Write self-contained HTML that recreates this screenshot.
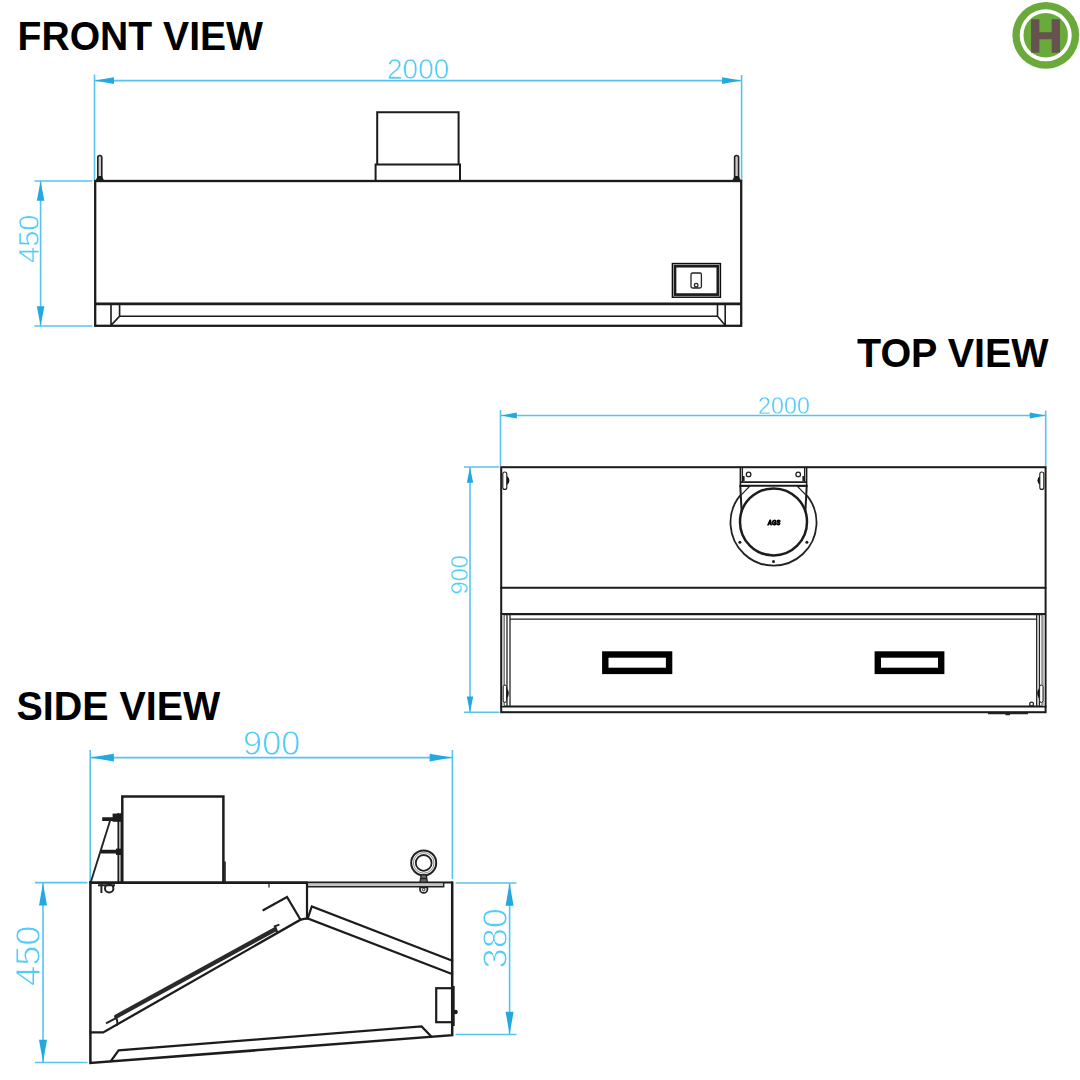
<!DOCTYPE html>
<html lang="en">
<head>
<meta charset="utf-8">
<title>Hood drawing</title>
<style>
html,body{margin:0;padding:0;background:#fff;}
body{width:1080px;height:1080px;overflow:hidden;position:relative;font-family:"Liberation Sans",sans-serif;}
svg{position:absolute;left:0;top:0;display:block;}
.t{font-family:"Liberation Sans",sans-serif;font-weight:700;font-size:41.2px;fill:#000;}
.d{font-family:"Liberation Sans",sans-serif;font-weight:400;fill:#52cbf8;stroke:#fff;stroke-width:0.6px;}
.d.s{stroke-width:0.35px;}
.d.l{stroke-width:0.9px;}
.k{stroke:#1c1c1c;fill:none;stroke-width:2;stroke-linecap:square;stroke-linejoin:miter;}
.k2{stroke:#1c1c1c;fill:none;stroke-width:2.6;stroke-linecap:butt;}
.k1{stroke:#222;fill:none;stroke-width:1.3;}
.b{stroke:#58c4ee;fill:none;stroke-width:1.6;}
.a{fill:#22a9e1;stroke:none;}
</style>
</head>
<body>
<svg width="1080" height="1080" viewBox="0 0 1080 1080">
<defs><filter id="soft" x="-2%" y="-2%" width="104%" height="104%"><feGaussianBlur stdDeviation="0.55"/></filter></defs>
<rect x="0" y="0" width="1080" height="1080" fill="#ffffff"/>

<!-- ===== titles ===== -->
<text class="t" x="17.6" y="49.8" textLength="245.4" lengthAdjust="spacingAndGlyphs">FRONT VIEW</text>
<text class="t" x="857" y="366.9" textLength="191.6" lengthAdjust="spacingAndGlyphs">TOP VIEW</text>
<text class="t" x="16.4" y="719.9" textLength="204" lengthAdjust="spacingAndGlyphs">SIDE VIEW</text>

<!-- ===== logo ===== -->
<g id="logo" filter="url(#soft)">
<circle cx="1045.8" cy="35.3" r="33.4" fill="#6aaa3a"/>
<circle cx="1045.7" cy="35.3" r="24.1" fill="none" stroke="#ffffff" stroke-width="3.8"/>
<text x="1045.6" y="51.5" text-anchor="middle" font-family="Liberation Sans, sans-serif" font-weight="700" font-size="46.5" fill="#66524f" stroke="#66524f" stroke-width="1.6" stroke-linejoin="miter">H</text>
</g>

<!-- ===== FRONT VIEW ===== -->
<g id="front" filter="url(#soft)">
<!-- dims -->
<path class="b" d="M94.5 74.5V180.5 M741.6 75V180.5 M95 80.6H741 M34.5 181H92.5 M34.5 326H92.5 M40.6 181.5V325.5"/>
<path class="a" d="M95 80.6l19 -3.3v6.6z M741 80.6l-19 -3.3v6.6z M40.6 181.3l-3.8 19.5h7.6z M40.6 325.7l-3.8 -19.5h7.6z"/>
<text class="d" x="387" y="79.4" font-size="29.5" textLength="62.5" lengthAdjust="spacingAndGlyphs">2000</text>
<text class="d" transform="translate(38.8 263) rotate(-90)" font-size="29" textLength="48.5" lengthAdjust="spacingAndGlyphs">450</text>
<!-- body -->
<rect class="k" x="95.2" y="181" width="646" height="144.8" style="stroke-width:2.3"/>
<path class="k2" d="M95 303.8H741.4" style="stroke-width:2.8"/>
<path class="k" d="M111 304V325.6 M119.6 304V316.2 M119.6 316.2H717.5 M119.6 316.2L111 325.4 M725.2 304V325.6 M717.5 304V316.2 M717.5 316.2L725.2 325.4" style="stroke-width:1.6"/>
<!-- duct -->
<path class="k" d="M377.2 164.5V112.2H458.6V164.5 M375.6 180.5V164.6H460V180.5"/>
<!-- hooks -->
<path d="M97.8 178V157.5a2 2 0 0 1 4 0V178z M734.6 178V157.5a2 2 0 0 1 4 0V178z" fill="#c8c8c8" stroke="#222" stroke-width="1.6"/>
<path d="M95.5 180.5l2.3 -4.5h4l2.3 4.5z M732.3 180.5l2.3 -4.5h4l2.3 4.5z" fill="#1c1c1c"/>
<!-- switch -->
<rect class="k1" x="672.4" y="263.6" width="48" height="33.6" style="stroke-width:1.5;stroke:#111"/>
<rect class="k2" x="675" y="266.2" width="42.8" height="28.4" style="stroke-width:2.7"/>
<rect class="k1" x="691" y="273" width="10.4" height="15" rx="1.5"/>
<circle class="k1" cx="696.2" cy="285.2" r="1.8"/>
</g>

<!-- ===== TOP VIEW ===== -->
<g id="top" filter="url(#soft)">
<path class="b" d="M500.5 410V466 M1045.7 410.5V466 M501 415.5H1045.5 M464 467H499.5 M464 712.3H499.5 M470 467.5V712"/>
<path class="a" d="M501 415.5l15.8 -3v6z M1045.5 415.5l-15.8 -3v6z M470 467.2l-3.2 15.6h6.4z M470 712.2l-3.2 -15.6h6.4z"/>
<text class="d s" x="758" y="414.4" font-size="24" textLength="52" lengthAdjust="spacingAndGlyphs">2000</text>
<text class="d s" transform="translate(468.2 594.5) rotate(-90)" font-size="24" textLength="39.5" lengthAdjust="spacingAndGlyphs">900</text>
<rect class="k" x="501.2" y="467.2" width="544.4" height="245"/>
<path class="k" d="M501.2 587.8H1045.4 M501.2 706.5H1045.4"/>
<path class="k2" d="M501 614.2H1045.6" style="stroke-width:2.2"/>
<path class="k1" d="M510 619.2H1036.7 M503.9 614V706.5 M507 614V706.5 M510 614V706.5 M1036.7 614V706.5 M1039.4 614V706.5 M1042.3 614V706.5"/>
<!-- handles -->
<rect x="605.3" y="654.5" width="63.8" height="16.4" fill="#fff" stroke="#000" stroke-width="6.4"/>
<rect x="877.8" y="654.5" width="63.4" height="16.4" fill="#fff" stroke="#000" stroke-width="6.4"/>
<!-- duct bracket -->
<path class="k" d="M740.4 467.5V486 M806.6 467.5V486 M740.4 482.1H806.6" style="stroke-width:1.6"/>
<path class="k" d="M740.4 485.7H806.6 M740.3 486L741.6 511 M806.7 486L805.4 511" style="stroke-width:2"/>
<path class="k1" d="M742.4 468V482 M804.6 468V482 M741 486.4h8.5l-8.7 9 M806 486.4h-8.5l8.7 9"/>
<circle class="k1" cx="748.6" cy="474.4" r="2.3"/>
<circle class="k1" cx="798.2" cy="474.4" r="2.3"/>
<path class="k2" d="M743.6 476V481 M803.4 476V481" style="stroke-width:2"/>
<path class="k1" d="M740.2 495.4A43 43 0 1 0 806.8 495.4" style="stroke-width:1.8"/>
<circle class="k2" cx="773.5" cy="521.9" r="33.5" style="stroke-width:2.5"/>
<circle cx="739.9" cy="542.2" r="1.5" fill="#1c1c1c"/>
<circle cx="806.9" cy="542.2" r="1.5" fill="#1c1c1c"/>
<circle cx="773.5" cy="561.6" r="1.5" fill="#1c1c1c"/>
<text x="774" y="525.2" text-anchor="middle" font-family="Liberation Sans, sans-serif" font-weight="700" font-style="italic" font-size="6.6" fill="#000" stroke="#000" stroke-width="1" stroke-linejoin="round" textLength="12.4" lengthAdjust="spacingAndGlyphs">AGS</text>
<!-- hooks -->
<path d="M506 475.6q5.6 4.8 0 9.8z M1040.8 475.6q-5.6 4.8 0 9.8z" fill="#111" stroke="#111" stroke-width="1.2"/>
<rect x="502.8" y="472" width="4" height="17.4" rx="2" fill="#fff" stroke="#1c1c1c" stroke-width="1.1"/>
<rect x="1039.8" y="472" width="4" height="17.4" rx="2" fill="#fff" stroke="#1c1c1c" stroke-width="1.1"/>
<!-- latches -->
<path d="M502 615H503.9V706H502z M1042.3 615H1044.6V706H1042.3z" fill="#bdbdbd"/>
<path d="M506.4 688q4 5 0 11z M1039.6 688q-4 5 0 11z" fill="#111" stroke="#111" stroke-width="0.8"/>
<rect x="503.2" y="685" width="3.4" height="17.4" rx="1.7" fill="#fff" stroke="#1c1c1c" stroke-width="1"/>
<rect x="1039.6" y="685" width="3.4" height="17.4" rx="1.7" fill="#fff" stroke="#1c1c1c" stroke-width="1"/>
<circle class="k1" cx="1031.6" cy="704" r="1.9"/>
<path class="k1" d="M988 713.6H1028 M1005.5 714.6h4.5" style="stroke-width:1.4"/>
</g>

<!-- ===== SIDE VIEW ===== -->
<g id="side" filter="url(#soft)">
<path class="b" d="M90.2 750V882 M452.4 750V879 M90.5 757.6H452 M35 882.6H87.5 M35 1062.5H87.5 M43 883V1062 M455.5 883H516.5 M455.5 1034.5H516.5 M509.6 883.5V1034"/>
<path class="a" d="M90.5 757.6l23.4 -3.8v7.6z M452 757.6l-22.4 -3.8v7.6z M43 883l-4 22.4h8z M43 1062.2l-4 -22.4h8z M509.6 883.3l-4 22.4h8z M509.6 1034.2l-4 -22.4h8z"/>
<text class="d l" x="243" y="755.2" font-size="35.5" textLength="57.5" lengthAdjust="spacingAndGlyphs">900</text>
<text class="d l" transform="translate(40 986) rotate(-90)" font-size="35" textLength="60.5" lengthAdjust="spacingAndGlyphs">450</text>
<text class="d l" transform="translate(506.8 968.4) rotate(-90)" font-size="35.6" textLength="60.4" lengthAdjust="spacingAndGlyphs">380</text>
<!-- outline -->
<path class="k" d="M90.4 882.6V1063L452.2 1035.2V882.8" style="stroke-width:2.5"/>
<path class="k2" d="M89.4 882.6H307.4" style="stroke-width:2.6"/>
<path class="k" d="M307 882.5H452" style="stroke-width:1.9"/>
<path class="k1" d="M307 886.7H443.6V883" style="stroke-width:1.6"/>
<path d="M307 883.6H443V886H307z" fill="#c4c4c4"/>
<path class="k" d="M307 883V918.4" style="stroke-width:2.2"/>
<!-- duct -->
<path class="k" d="M122.3 882V796.4H223.4V882" style="stroke-width:2.5"/>
<path class="k1" d="M225 861.5V882" style="stroke-width:1.6"/>
<!-- ladder bracket -->
<path class="k2" d="M102.2 819.2H120 M101 851.6H120" style="stroke-width:3.8"/>
<rect x="112.6" y="813.6" width="9" height="8.2" fill="#1c1c1c"/>
<rect x="116" y="848.6" width="5" height="6.4" fill="#1c1c1c"/>
<path class="k" d="M118.4 814V882 M121.4 814V882" style="stroke-width:1.9"/>
<path class="k1" d="M110.6 819L91 881.5" style="stroke-width:1.9"/>
<path class="k1" d="M101.4 884v9 M105 888.4a4 3.8 0 1 0 8.4 0a4 3.8 0 1 0 -8.4 0 M98 885.2h17" style="stroke-width:2"/>
<path class="k1" d="M269 883V887.6"/>
<!-- filter -->
<path class="k" d="M90.6 1032.4H103.2L300.6 919.7L307 918.3" style="stroke-width:2.3"/>
<path class="k2" d="M115.2 1017.2L275.8 929" style="stroke-width:4.3;stroke:#2b2b2b"/>
<path class="k1" d="M106 1023.3L115 1018.6 M114.6 1016q4 4.6 2.4 9.6 M273.8 926.6L279.4 924.6 M275.4 927L277.6 933.4" style="stroke-width:2"/>
<path class="k" d="M263.6 910L287 897L300.4 919.6" style="stroke-width:2.2"/>
<!-- right baffle -->
<path class="k" d="M307.4 918.4L452 974 M308 917.6L311.8 906.4L452 960.6" style="stroke-width:2.2"/>
<!-- bottom tray -->
<path class="k" d="M111 1061L118.6 1050.3L421.6 1026.4L431.2 1036.4" style="stroke-width:2.2"/>
<!-- box -->
<rect class="k" x="436.2" y="988.2" width="16" height="34" style="stroke-width:2.2"/>
<path class="k2" d="M453.2 986V1026" style="stroke-width:3"/>
<circle cx="455.6" cy="1012" r="2.2" fill="#1c1c1c"/>
<!-- eye bolt -->
<circle class="k1" cx="423.7" cy="862.9" r="12.5" style="stroke-width:2"/>
<circle class="k1" cx="423.7" cy="862.9" r="10.3" style="stroke-width:0.9;stroke:#777"/>
<circle class="k1" cx="423.7" cy="862.9" r="7.9" style="stroke-width:1.8"/>
<path d="M421.2 874.6H426.2L427.4 882.2H420z" fill="#666" stroke="#222" stroke-width="1.3"/>
<path class="k1" d="M420.4 878.6H427" style="stroke-width:1.3"/>
<path d="M420 887.4v2a3.7 3.4 0 0 0 7.4 0V887.4z" fill="#fff" stroke="#222" stroke-width="1.7"/>
<circle cx="423.7" cy="889.6" r="1.3" fill="#fff" stroke="#222" stroke-width="1"/>
</g>
</svg>
</body>
</html>
